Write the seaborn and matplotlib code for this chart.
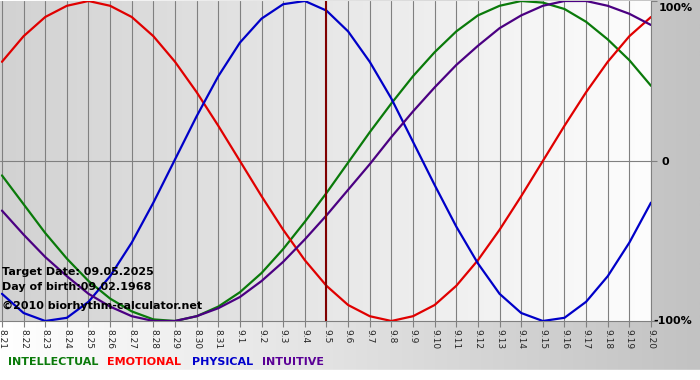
import numpy as np
import pandas as pd
import matplotlib
matplotlib.use("Agg")
import matplotlib.pyplot as plt
from matplotlib.colors import LinearSegmentedColormap
import seaborn as sns

# ── Data ──────────────────────────────────────────────────────────────────────
days = ["8.21", "8.22", "8.23", "8.24", "8.25", "8.26", "8.27", "8.28", "8.29",
        "8.30", "8.31", "9.1", "9.2", "9.3", "9.4", "9.5", "9.6", "9.7", "9.8",
        "9.9", "9.10", "9.11", "9.12", "9.13", "9.14", "9.15", "9.16", "9.17",
        "9.18", "9.19", "9.20"]

intellectual = [-0.09, -0.27, -0.45, -0.61, -0.75, -0.86, -0.94, -0.99, -1.00,
                -0.97, -0.91, -0.82, -0.70, -0.55, -0.38, -0.20, -0.01, 0.18,
                0.36, 0.53, 0.68, 0.81, 0.91, 0.97, 1.00, 0.99, 0.95, 0.87,
                0.76, 0.63, 0.47]
emotional = [0.62, 0.78, 0.90, 0.97, 1.00, 0.97, 0.90, 0.78, 0.62, 0.43, 0.22,
             0.00, -0.22, -0.43, -0.62, -0.78, -0.90, -0.97, -1.00, -0.97,
             -0.90, -0.78, -0.62, -0.43, -0.22, 0.00, 0.22, 0.43, 0.62, 0.78,
             0.90]
physical = [-0.83, -0.95, -1.00, -0.98, -0.88, -0.72, -0.51, -0.26, 0.01, 0.28,
            0.53, 0.74, 0.89, 0.98, 1.00, 0.94, 0.81, 0.62, 0.39, 0.12, -0.15,
            -0.41, -0.64, -0.83, -0.95, -1.00, -0.98, -0.88, -0.72, -0.51,
            -0.26]
intuitive = [-0.31, -0.46, -0.60, -0.72, -0.83, -0.91, -0.97, -1.00, -1.00,
             -0.97, -0.92, -0.85, -0.75, -0.63, -0.49, -0.34, -0.18, -0.02,
             0.15, 0.31, 0.46, 0.60, 0.72, 0.83, 0.91, 0.97, 1.00, 1.00, 0.97,
             0.92, 0.85]

target_day = "9.5"
info_lines = ["Target Date: 09.05.2025", "Day of birth:09.02.1968",
              "\u00a92010 biorhythm-calculator.net"]
scale_labels = ["100%", "0", "-100%"]
rhythms = ["INTELLECTUAL", "EMOTIONAL", "PHYSICAL", "INTUITIVE"]
line_colors = {"INTELLECTUAL": "#0a7a0a", "EMOTIONAL": "#e00000",
               "PHYSICAL": "#0000c8", "INTUITIVE": "#4b0082"}
text_colors = {"INTELLECTUAL": "#0a7a0a", "EMOTIONAL": "#ff0000",
               "PHYSICAL": "#0000cc", "INTUITIVE": "#5a0096"}

df = pd.DataFrame({
    "day": list(range(len(days))) * 4,
    "value": intellectual + emotional + physical + intuitive,
    "rhythm": [r for r in rhythms for _ in days],
})

# ── Style ─────────────────────────────────────────────────────────────────────
sns.set_theme(style="white")
plt.rcParams["font.family"] = ["DejaVu Sans"]

W, H = 700, 380
fig = plt.figure(figsize=(7, 3.8), dpi=100)

# page background: white -> grey from left to right, white strip at bottom
bg = fig.add_axes([0, 0, 1, 1], zorder=-2)
bg_cmap = LinearSegmentedColormap.from_list("bg", ["#ffffff", "#c2c2c2"])
bg.imshow(np.linspace(0, 1, 256).reshape(1, -1), cmap=bg_cmap, aspect="auto",
          extent=(0, 1, 0, 1))
bg.axhspan(0, 10 / H, color="white")
bg.set_xlim(0, 1)
bg.set_ylim(0, 1)
bg.axis("off")

# plot area
ax = fig.add_axes([0, 59 / H, 651 / W, 320 / H])
xlim = (-0.09, len(days) - 1)
ylim = (-1.0, 1.0)
pa_cmap = LinearSegmentedColormap.from_list("pa", ["#d2d2d2", "#fdfdfd"])
ax.imshow(np.linspace(0, 1, 256).reshape(1, -1), cmap=pa_cmap, aspect="auto",
          extent=(*xlim, *ylim), zorder=0)

# vertical day grid
for i in range(len(days)):
    ax.axvline(i, color="#808080", lw=0.8, zorder=1)
ax.axhline(0, color="#808080", lw=0.8, zorder=1)

sns.lineplot(data=df, x="day", y="value", hue="rhythm", palette=line_colors,
             hue_order=rhythms, lw=1.6, legend=False, ax=ax, zorder=3)

ax.axvline(days.index(target_day), color="#800000", lw=1.5, zorder=4)

ax.set_xlim(*xlim)
ax.set_ylim(*ylim)
ax.set_xlabel("")
ax.set_ylabel("")
ax.set_xticks(range(len(days)))
ax.set_xticklabels(days, rotation=270, fontsize=6.5)
ax.yaxis.tick_right()
ax.set_yticks([1, 0, -1])
ax.set_yticklabels([])
ax.tick_params(axis="x", length=4, color="#808080", width=0.8, pad=2,
               bottom=True)
ax.tick_params(axis="y", length=4, color="#808080", width=0.8,
               right=True, left=False)
for side in ["top", "left"]:
    ax.spines[side].set_visible(False)
for side in ["bottom", "right"]:
    ax.spines[side].set_color("#808080")
    ax.spines[side].set_linewidth(0.8)

# scale labels on the right
for txt, x, y in zip(scale_labels, [659, 661, 653], [8, 162, 321]):
    fig.text(x / W, 1 - y / H, txt, fontsize=8, fontweight="bold",
             color="black", va="center", ha="left")

# info text inside the plot
for txt, y in zip(info_lines, [272, 287, 306]):
    fig.text(2 / W, 1 - y / H, txt, fontsize=8, fontweight="bold",
             color="black", va="center", ha="left", zorder=10)

# colored legend words
for name, x in zip(rhythms, [8, 107, 192, 262]):
    fig.text(x / W, 1 - 362 / H, name, fontsize=8, fontweight="bold",
             color=text_colors[name], va="center", ha="left")

fig.savefig("out.png", dpi=100)
